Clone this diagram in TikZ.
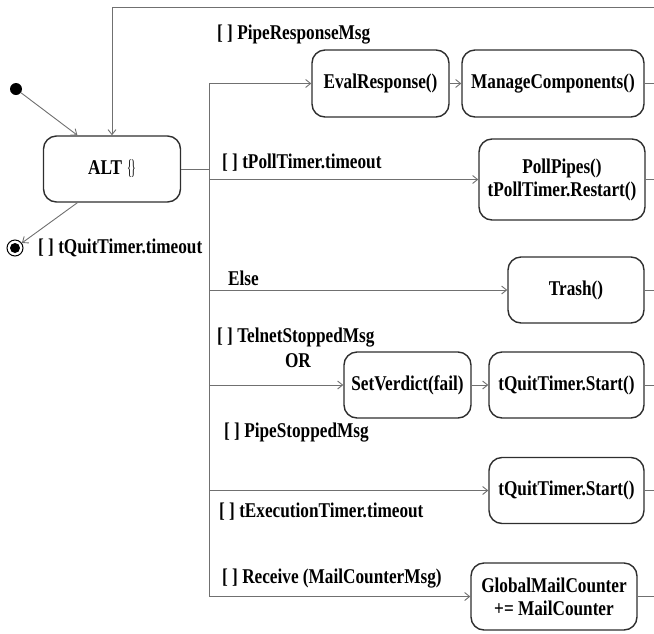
\documentclass[tikz,border=0pt]{standalone}
\usepackage{fontspec}
\setmainfont[FakeStretch=0.82]{Liberation Serif}
\usetikzlibrary{arrows.meta,calc}
\definecolor{linec}{HTML}{707070}
\definecolor{boxc}{HTML}{2E2E2E}
\newcommand\lblfont{\fontsize{21}{23}\selectfont\bfseries}
\tikzset{
  state/.style={draw=boxc, line width=1.4pt, rounded corners=13pt, inner sep=0pt,
                align=center, font=\lblfont},
  flow/.style={draw=linec, line width=0.9pt, -{Straight Barb[length=5pt,width=8pt]}},
  plain/.style={draw=linec, line width=0.9pt},
  lab/.style={inner sep=0pt, anchor=west, font=\lblfont},
}
\begin{document}
\begin{tikzpicture}[x=1pt,y=-1pt]
\useasboundingbox (0,0) rectangle (654,633);

% pseudo states
\node[circle, fill=black, inner sep=0pt, minimum size=12pt] (init) at (16,89) {};
\node[circle, draw=black, line width=1pt, inner sep=0pt, minimum size=16pt] (final) at (15,248) {};
\fill (final) circle (5pt);

% states
\node[state, minimum width=137pt, minimum height=66pt] (alt) at (112,169)
  {ALT\hspace{5pt}\raisebox{-0.5pt}{\scalebox{0.6}[1]{\mdseries\fontsize{21}{21}\selectfont\{\kern-2pt\}}}};
\node[state, minimum width=137pt, minimum height=67pt] (eval) at (380.5,83.5) {EvalResponse()};
\node[state, minimum width=182pt, minimum height=67pt] (manage) at (553,83.5) {ManageComponents()};
\node[state, minimum width=166pt, minimum height=81pt] (poll) at (562,179.5) {PollPipes()\\tPollTimer.Restart()};
\node[state, minimum width=136pt, minimum height=66pt] (trash) at (576,290) {Trash()};
\node[state, minimum width=127pt, minimum height=66pt] (verdict) at (407.5,385) {SetVerdict(fail)};
\node[state, minimum width=155pt, minimum height=66pt] (quit1) at (566.5,385) {tQuitTimer.Start()};
\node[state, minimum width=155pt, minimum height=66pt] (quit2) at (566.5,490.5) {tQuitTimer.Start()};
\node[state, minimum width=166pt, minimum height=67pt] (mail) at (554,596.5) {GlobalMailCounter\\+= MailCounter};

% return path and branch bus
\coordinate (loopR) at (654,7);
\coordinate (bus) at (209,0);
\draw[flow] (init) -- ($(alt.north west)!0.25!(alt.north east)$);
\draw[flow] ($(alt.south west)!0.25!(alt.south east)$) -- (final);
\draw[flow] (loopR) -| (alt.north);
\draw[plain] (alt.east) -- (alt.east -| bus);
\draw[plain] (eval.west -| bus) -- (mail.west -| bus);

% branches
\draw[flow] (eval.west -| bus) -- (eval.west);
\draw[flow] (poll.west -| bus) -- (poll.west);
\draw[flow] (trash.west -| bus) -- (trash.west);
\draw[flow] (verdict.west -| bus) -- (verdict.west);
\draw[flow] (quit2.west -| bus) -- (quit2.west);
\draw[flow] (mail.west -| bus) -- (mail.west);
\draw[flow] (eval) -- (manage);
\draw[flow] (verdict) -- (quit1);

% exits toward the return path
\foreach \s in {manage,poll,trash,quit1,quit2,mail}
  \draw[plain] (\s.east) -- (\s.east -| loopR);

% guards
\node[lab] (g1) at (217,35) {[ ] PipeResponseMsg};
\node[lab] (g2) at (222,163) {[ ] tPollTimer.timeout};
\node[lab] (g0) at (38,248) {[ ] tQuitTimer.timeout};
\node[lab] (g3) at (228,278) {Else};
\node[lab] (g4) at (217,338) {[ ] TelnetStoppedMsg};
\node[inner sep=0pt, font=\lblfont] (g4b) at (298,361) {OR};
\node[lab] (g4c) at (224,433) {[ ] PipeStoppedMsg};
\node[lab] (g5) at (219,512) {[ ] tExecutionTimer.timeout};
\node[lab] (g6) at (222,579) {[ ] Receive (MailCounterMsg)};
\end{tikzpicture}
\end{document}
